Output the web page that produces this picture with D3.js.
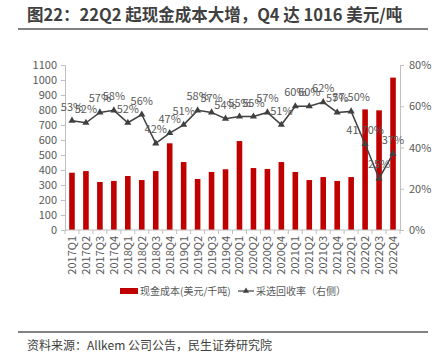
<!DOCTYPE html>
<html lang="zh">
<head>
  <meta charset="utf-8">
  <title>cash cost</title>
  <script src="https://d3js.org/d3.v7.min.js"></script>
  <style>
    body { margin: 0; background: #fff; }
    text { font-family: "Noto Sans CJK SC", "Noto Sans", sans-serif; }
  </style>
</head>
<body>
<script>
// data
var quarters = ["2017Q1","2017Q2","2017Q3","2017Q4","2018Q1","2018Q2","2018Q3","2018Q4",
  "2019Q1","2019Q2","2019Q3","2019Q4","2020Q1","2020Q2","2020Q3","2020Q4",
  "2021Q1","2021Q2","2021Q3","2021Q4","2022Q1","2022Q2","2022Q3","2022Q4"];
var cashCost = [382,393,320,327,360,333,393,578,453,340,387,405,593,413,407,453,
  387,333,353,327,353,804,798,1016];
var recovery = [53,52,57,58,52,56,42,47,51,58,57,54,55,55,57,51,60,60,62,57,57.5,41.7,25,37];
var recoveryLabels = ["53%","52%","57%","58%","52%","56%","42%","47%","51%","58%","57%","54%",
  "55%","55%","57%","51%","60%","60%","62%","57%","57.50%","41.70%","25%","37%"];
var leftTicks = [0,100,200,300,400,500,600,700,800,900,1000,1100];
var rightTicks = [0,20,40,60,80];

var W = 440, H = 363;
var mLeft = 65, mRight = 400, mTop = 65, mBottom = 230;
var grey = "#595959";

var svg = d3.select("body").append("svg").attr("width", W).attr("height", H);

// title
svg.append("text").attr("x", 27).attr("y", 21)
  .attr("font-size", 16.5).attr("font-weight", "bold").attr("fill", "#404040")
  .text("图22：22Q2 起现金成本大增，Q4 达 1016 美元/吨");
svg.append("line").attr("x1", 18).attr("x2", 428).attr("y1", 29).attr("y2", 29)
  .attr("stroke", "#595959").attr("stroke-width", 1.5);

var x = d3.scaleBand().domain(quarters).range([mLeft, mRight]).paddingInner(0.6).paddingOuter(0.3);
var xb = d3.scaleBand().domain(quarters).range([mLeft, mRight]);
var yL = d3.scaleLinear().domain([0, 1100]).range([mBottom, mTop]);
var yR = d3.scaleLinear().domain([0, 80]).range([mBottom, mTop]);

// left axis
var gl = svg.append("g").attr("transform", "translate(" + mLeft + ",0)")
  .call(d3.axisLeft(yL).tickValues(leftTicks).tickSize(4).tickPadding(4).tickFormat(d3.format("d")));
// right axis
var gr = svg.append("g").attr("transform", "translate(" + mRight + ",0)")
  .call(d3.axisRight(yR).tickValues(rightTicks).tickSize(4).tickPadding(5)
    .tickFormat(function(d) { return d + "%"; }));
[gl, gr].forEach(function(g) {
  g.select(".domain").attr("stroke", "#bfbfbf");
  g.selectAll(".tick line").attr("stroke", "#bfbfbf");
  g.selectAll(".tick text").attr("fill", grey).attr("font-size", 11)
    .style("font-family", "'Noto Sans CJK SC', sans-serif");
});

// bars
svg.selectAll("rect.bar").data(cashCost).enter().append("rect")
  .attr("class", "bar")
  .attr("x", function(d, i) { return x(quarters[i]); })
  .attr("width", x.bandwidth())
  .attr("y", function(d) { return yL(d); })
  .attr("height", function(d) { return mBottom - yL(d); })
  .attr("fill", "#c00000");

// x axis
svg.append("line").attr("x1", mLeft).attr("x2", mRight).attr("y1", mBottom).attr("y2", mBottom)
  .attr("stroke", "#bfbfbf");
var bounds = quarters.map(function(q) { return xb(q); }).concat([mRight]);
svg.selectAll("line.xt").data(bounds).enter().append("line")
  .attr("x1", function(d) { return d; }).attr("x2", function(d) { return d; })
  .attr("y1", mBottom).attr("y2", mBottom + 4).attr("stroke", "#bfbfbf");
svg.selectAll("text.xl").data(quarters).enter().append("text")
  .attr("transform", function(d) {
    return "translate(" + (xb(d) + xb.bandwidth() / 2 + 4) + "," + (mBottom + 6) + ") rotate(-90)";
  })
  .attr("text-anchor", "end").attr("font-size", 11).attr("fill", grey)
  .text(function(d) { return d; });

// recovery line
var cx = function(i) { return xb(quarters[i]) + xb.bandwidth() / 2; };
svg.append("path").datum(recovery)
  .attr("d", d3.line().x(function(d, i) { return cx(i); }).y(function(d) { return yR(d); }))
  .attr("fill", "none").attr("stroke", "#404040").attr("stroke-width", 1.5);
var tri = d3.symbol().type(d3.symbolTriangle).size(22);
svg.selectAll("path.mk").data(recovery).enter().append("path")
  .attr("class", "mk").attr("d", tri)
  .attr("transform", function(d, i) { return "translate(" + cx(i) + "," + yR(d) + ")"; })
  .attr("fill", "#404040");
svg.selectAll("text.lbl").data(recovery).enter().append("text")
  .attr("x", function(d, i) { return cx(i); })
  .attr("y", function(d) { return yR(d) - 10; })
  .attr("text-anchor", "middle").attr("font-size", 11).attr("fill", grey)
  .text(function(d, i) { return recoveryLabels[i]; });

// legend
var lg = svg.append("g").attr("transform", "translate(0,291)");
lg.append("rect").attr("x", 120).attr("y", -3).attr("width", 18).attr("height", 6).attr("fill", "#c00000");
lg.append("text").attr("x", 140).attr("y", 4).attr("font-size", 10).attr("fill", grey).text("现金成本(美元/千吨)");
lg.append("line").attr("x1", 238).attr("x2", 254).attr("y1", 0).attr("y2", 0).attr("stroke", "#404040").attr("stroke-width", 1.2);
lg.append("path").attr("d", d3.symbol().type(d3.symbolTriangle).size(16))
  .attr("transform", "translate(246,0)").attr("fill", "#404040");
lg.append("text").attr("x", 256).attr("y", 4).attr("font-size", 10).attr("fill", grey).text("采选回收率（右侧）");

// footer
svg.append("line").attr("x1", 18).attr("x2", 428).attr("y1", 332).attr("y2", 332)
  .attr("stroke", "#595959").attr("stroke-width", 1.5);
svg.append("text").attr("x", 27).attr("y", 350).attr("font-size", 12).attr("fill", "#404040")
  .text("资料来源：Allkem 公司公告，民生证券研究院");
</script>
</body>
</html>
